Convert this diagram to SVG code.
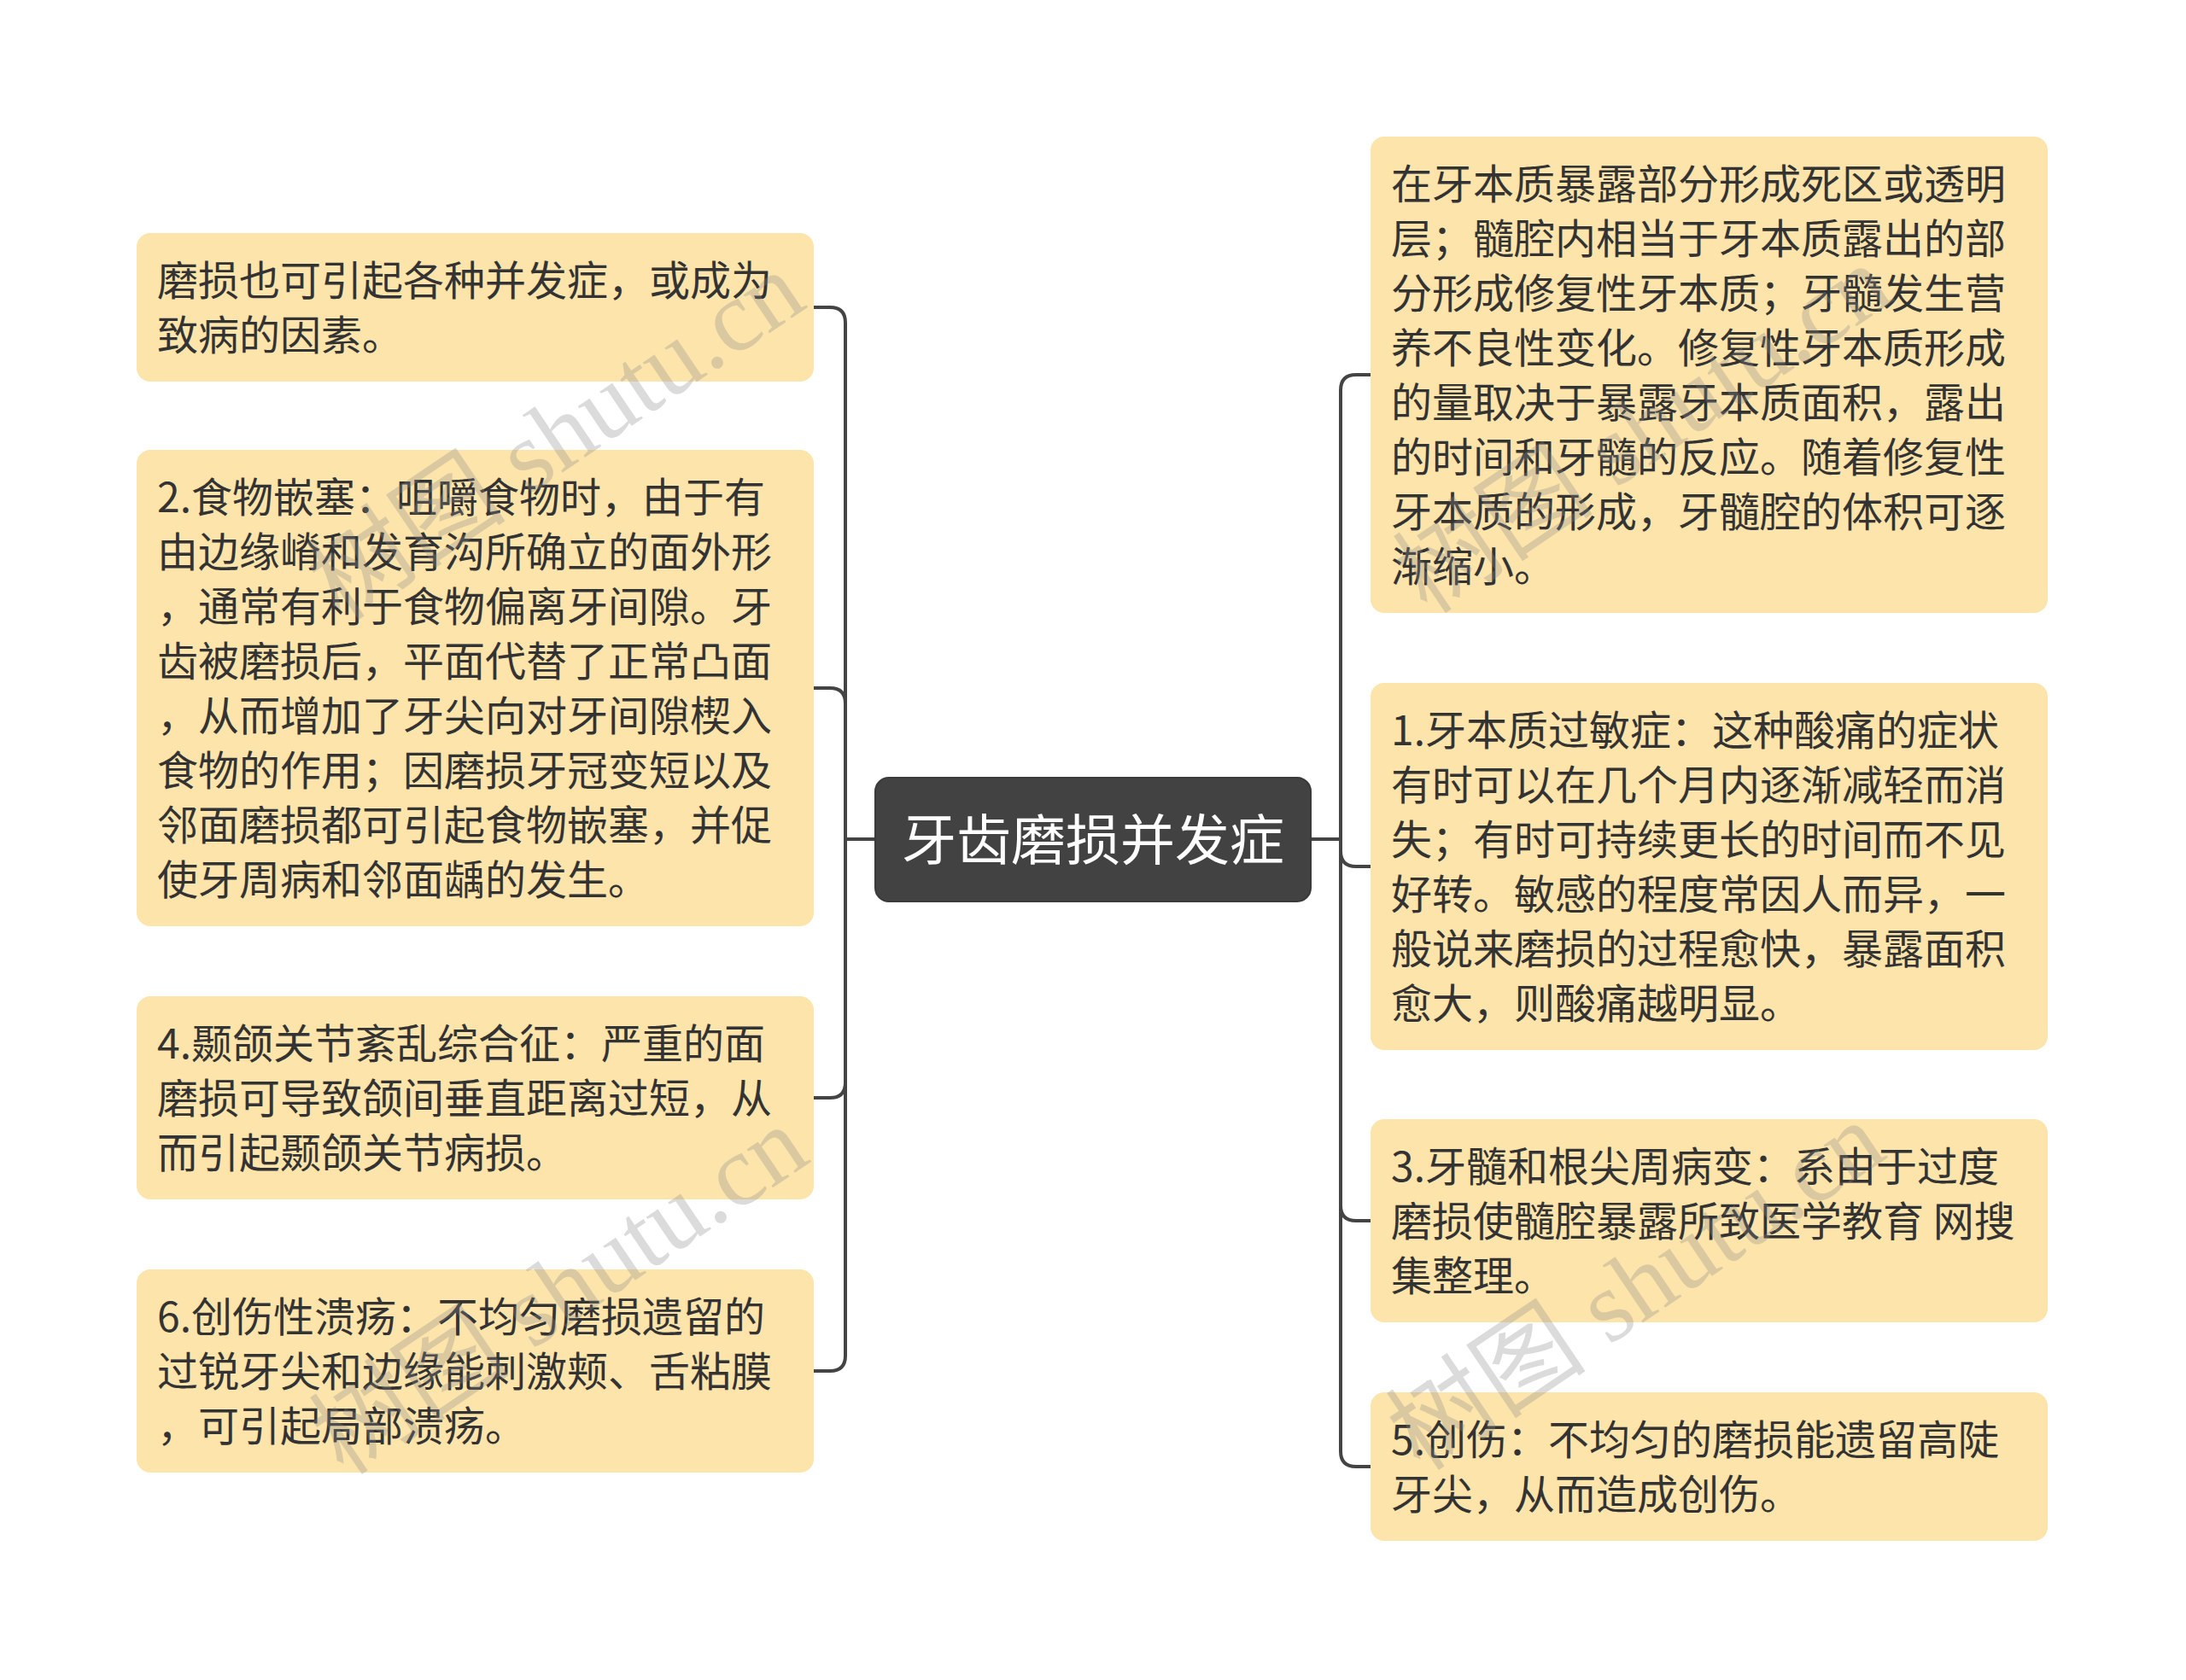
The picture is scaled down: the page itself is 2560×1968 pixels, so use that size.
<svg xmlns="http://www.w3.org/2000/svg" width="2560" height="1968" viewBox="0 0 2560 1968">
<style>
.node rect{fill:#FDE4AA}
.node text{font-family:"Noto Sans CJK SC","Noto Sans",sans-serif;font-size:48px;fill:#333333}
.root rect{fill:#424242;stroke:#3a3a3a;stroke-width:2}
.root text{font-family:"Noto Sans CJK SC","Noto Sans",sans-serif;font-size:64px;fill:#ffffff}
.conn path{fill:none;stroke:#444444;stroke-width:4}
.wm{font-family:"Liberation Serif","Noto Sans CJK SC",serif;font-size:118px;fill:#8a8a8a;opacity:0.3}
</style>
<rect width="2560" height="1968" fill="#ffffff"/>
<g id="connectors" class="conn">
<path d="M1025 983 H990"/>
<path d="M990 983 V378 Q990 360 972 360 H953"/>
<path d="M990 983 V824 Q990 806 972 806 H953"/>
<path d="M990 983 V1268 Q990 1286 972 1286 H953"/>
<path d="M990 983 V1588 Q990 1606 972 1606 H953"/>
<path d="M1535 983 H1570"/>
<path d="M1570 983 V457 Q1570 439 1588 439 H1605"/>
<path d="M1570 983 V997 Q1570 1015 1588 1015 H1605"/>
<path d="M1570 983 V1412 Q1570 1430 1588 1430 H1605"/>
<path d="M1570 983 V1700 Q1570 1718 1588 1718 H1605"/>
</g>
<g id="root" class="root">
<rect x="1025" y="911" width="510" height="145" rx="16"/>
<text x="1280" y="1007" text-anchor="middle">牙齿磨损并发症</text>
</g>
<g id="n-l1" class="node">
<rect x="160" y="273" width="793" height="174" rx="16"/>
<text x="184" y="346">磨损也可引起各种并发症，或成为</text>
<text x="184" y="410">致病的因素。</text>
</g>
<g id="n-l2" class="node">
<rect x="160" y="527" width="793" height="558" rx="16"/>
<text x="184" y="600">2.食物嵌塞：咀嚼食物时，由于有</text>
<text x="184" y="664">由边缘嵴和发育沟所确立的面外形</text>
<text x="184" y="728">，通常有利于食物偏离牙间隙。牙</text>
<text x="184" y="792">齿被磨损后，平面代替了正常凸面</text>
<text x="184" y="856">，从而增加了牙尖向对牙间隙楔入</text>
<text x="184" y="920">食物的作用；因磨损牙冠变短以及</text>
<text x="184" y="984">邻面磨损都可引起食物嵌塞，并促</text>
<text x="184" y="1048">使牙周病和邻面龋的发生。</text>
</g>
<g id="n-l3" class="node">
<rect x="160" y="1167" width="793" height="238" rx="16"/>
<text x="184" y="1240">4.颞颌关节紊乱综合征：严重的面</text>
<text x="184" y="1304">磨损可导致颌间垂直距离过短，从</text>
<text x="184" y="1368">而引起颞颌关节病损。</text>
</g>
<g id="n-l4" class="node">
<rect x="160" y="1487" width="793" height="238" rx="16"/>
<text x="184" y="1560">6.创伤性溃疡：不均匀磨损遗留的</text>
<text x="184" y="1624">过锐牙尖和边缘能刺激颊、舌粘膜</text>
<text x="184" y="1688">，可引起局部溃疡。</text>
</g>
<g id="n-r1" class="node">
<rect x="1605" y="160" width="793" height="558" rx="16"/>
<text x="1629" y="233">在牙本质暴露部分形成死区或透明</text>
<text x="1629" y="297">层；髓腔内相当于牙本质露出的部</text>
<text x="1629" y="361">分形成修复性牙本质；牙髓发生营</text>
<text x="1629" y="425">养不良性变化。修复性牙本质形成</text>
<text x="1629" y="489">的量取决于暴露牙本质面积，露出</text>
<text x="1629" y="553">的时间和牙髓的反应。随着修复性</text>
<text x="1629" y="617">牙本质的形成，牙髓腔的体积可逐</text>
<text x="1629" y="681">渐缩小。</text>
</g>
<g id="n-r2" class="node">
<rect x="1605" y="800" width="793" height="430" rx="16"/>
<text x="1629" y="873">1.牙本质过敏症：这种酸痛的症状</text>
<text x="1629" y="937">有时可以在几个月内逐渐减轻而消</text>
<text x="1629" y="1001">失；有时可持续更长的时间而不见</text>
<text x="1629" y="1065">好转。敏感的程度常因人而异，一</text>
<text x="1629" y="1129">般说来磨损的过程愈快，暴露面积</text>
<text x="1629" y="1193">愈大，则酸痛越明显。</text>
</g>
<g id="n-r3" class="node">
<rect x="1605" y="1311" width="793" height="238" rx="16"/>
<text x="1629" y="1384">3.牙髓和根尖周病变：系由于过度</text>
<text x="1629" y="1448">磨损使髓腔暴露所致医学教育 网搜</text>
<text x="1629" y="1512">集整理。</text>
</g>
<g id="n-r4" class="node">
<rect x="1605" y="1631" width="793" height="174" rx="16"/>
<text x="1629" y="1704">5.创伤：不均匀的磨损能遗留高陡</text>
<text x="1629" y="1768">牙尖，从而造成创伤。</text>
</g>
<g id="watermarks">
<text class="wm" x="653" y="550" text-anchor="middle" transform="rotate(-34 653 514)">树图 shutu.cn</text>
<text class="wm" x="657" y="1551" text-anchor="middle" transform="rotate(-34 657 1515)">树图 shutu.cn</text>
<text class="wm" x="1926" y="542" text-anchor="middle" transform="rotate(-34 1926 506)">树图 shutu.cn</text>
<text class="wm" x="1918" y="1546" text-anchor="middle" transform="rotate(-34 1918 1510)">树图 shutu.cn</text>
</g>
</svg>
